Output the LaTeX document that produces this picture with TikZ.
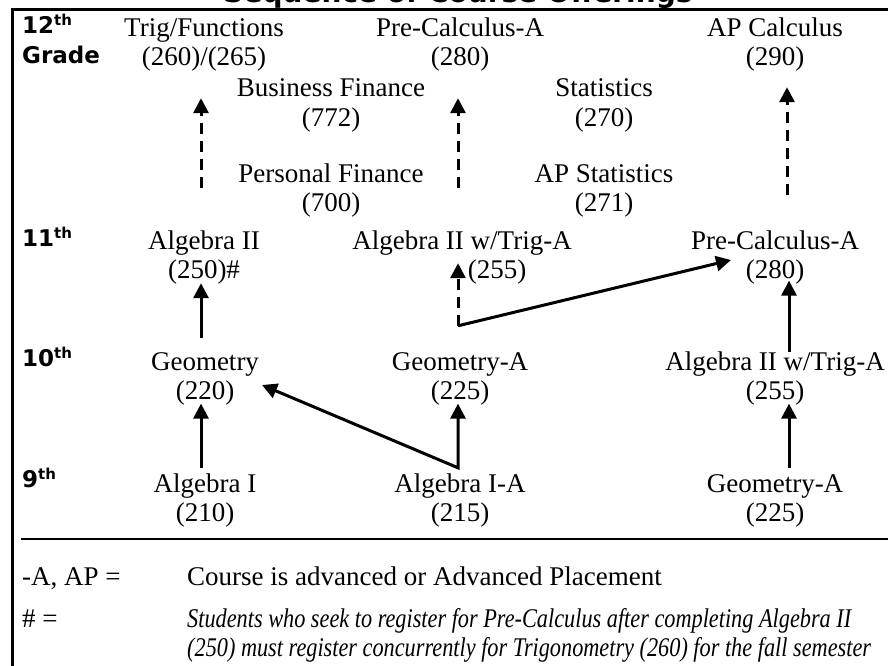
\documentclass[tikz,border=0pt]{standalone}
\usepackage{fontspec}
\usepackage{graphicx}
\setmainfont{Liberation Serif}
\newfontfamily\gradefont{DejaVu Sans}
\usetikzlibrary{arrows.meta,calc}

% two-line course entry; the node's base is the first line's baseline
\newcommand{\crs}[2]{\begin{tabular}[t]{@{}c@{}}#1\\#2\end{tabular}}
% grade label with raised "th"
\newcommand{\gth}[1]{#1\raisebox{8pt}{\fontsize{15}{15}\selectfont th}}

\begin{document}
\begin{tikzpicture}[x=1pt,y=-1pt,
  course/.style={anchor=base,inner sep=0pt,font=\fontsize{27}{29}\selectfont},
  grade/.style={anchor=base west,inner sep=0pt,font=\gradefont\bfseries\fontsize{23}{23}\selectfont},
  keytext/.style={anchor=base west,inner sep=0pt,font=\fontsize{27}{29}\selectfont},
  arr/.style={line width=3pt,-{Triangle[width=15pt,length=15pt]}},
  dsh/.style={arr,dash pattern=on 11pt off 7pt},
  rule/.style={line width=3pt}]
\useasboundingbox (0,0) rectangle (888,666);
\clip (0,0) rectangle (888,666);

% heading (runs off the top edge) and frame
\node[anchor=base,inner sep=0pt,font=\gradefont\bfseries\fontsize{28}{28}\selectfont] (title) at (458,3) {Sequence of Course Offerings};
\draw[rule] (12,700) -- (12,10) -- (900,10);
\draw[line width=2pt] (21,539) -- (900,539);

% grade labels
\node[grade] (g12) at (22,34) {\gth{12}};
\node[grade] (gr) at (22,64) {Grade};
\node[grade] (g11) at (22,246) {\gth{11}};
\node[grade] (g10) at (22,366) {\gth{10}};
\node[grade] (g9) at (22,487) {\gth{9}};

% 12th grade
\node[course] (trig) at (204,37) {\crs{Trig/Functions}{(260)/(265)}};
\node[course] (pcA) at (460,37) {\crs{Pre-Calculus-A}{(280)}};
\node[course] (apc) at (775,37) {\crs{AP Calculus}{(290)}};
\node[course] (bus) at (331,97) {\crs{Business Finance}{(772)}};
\node[course] (stat) at (604,97) {\crs{Statistics}{(270)}};
\node[course] (pers) at (331,182) {\crs{Personal Finance}{(700)}};
\node[course] (aps) at (604,182) {\crs{AP Statistics}{(271)}};

% 11th grade
\node[course] (alg2) at (204,249) {\crs{Algebra II}{(250)\#}};
\node[course] (alg2t) at (462,249) {\crs{Algebra II w/Trig-A}{\hspace*{70pt}(255)}};
\node[course] (pcR) at (775,249) {\crs{Pre-Calculus-A}{(280)}};

% 10th grade
\node[course] (geo) at (205,370) {\crs{Geometry}{(220)}};
\node[course] (geoA) at (460,370) {\crs{Geometry-A}{(225)}};
\node[course] (alg2tR) at (775,370) {\crs{Algebra II w/Trig-A}{(255)}};

% 9th grade
\node[course] (alg1) at (205,492) {\crs{Algebra I}{(210)}};
\node[course] (alg1A) at (460,492) {\crs{Algebra I-A}{(215)}};
\node[course] (geoAR) at (775,492) {\crs{Geometry-A}{(225)}};

% 11th -> 12th (dashed)
\draw[dsh,shorten <=40.7pt,shorten >=23.3pt] ([xshift=-3pt]alg2.north) -- ([xshift=-3pt]trig.south);
\draw[dsh,shorten <=40.7pt,shorten >=23.3pt] ([xshift=-4pt]alg2t.north) -- ([xshift=-2pt]pcA.south);
\draw[dsh,shorten <=33.7pt,shorten >=12.3pt] ([xshift=12pt]pcR.north) -- ([xshift=12pt]apc.south);

% 10th -> 11th
\draw[arr,shorten <=11.7pt,shorten >=-3.7pt] ([xshift=-4pt]geo.north) -- ([xshift=-3pt]alg2.south);
\coordinate (j2) at ([xshift=-2pt,yshift=23.7pt]geoA.north);
\draw[dsh,shorten >=-23.7pt] (j2) -- ([xshift=-4pt]alg2t.south);
\draw[arr] (j2) -- ([xshift=-44pt,yshift=-2.3pt]pcR.center);
\draw[arr,shorten <=-2.3pt,shorten >=-6.3pt] ([xshift=14pt]alg2tR.north) -- ([xshift=14pt]pcR.south);

% 9th -> 10th
\draw[arr,shorten <=3.7pt,shorten >=-4.3pt] ([xshift=-4pt]alg1.north) -- ([xshift=-4pt]geo.south);
\coordinate (j1) at ([xshift=-2pt,yshift=3.7pt]alg1A.north);
\draw[line width=3pt,{Triangle[width=15pt,length=15pt]}-{Triangle[width=15pt,length=15pt]},shorten >=-4.3pt]
  ([xshift=57pt,yshift=-6.3pt]geo.center) -- (j1) -- ([xshift=-2pt]geoA.south);
\draw[arr,shorten <=3.7pt,shorten >=-4.3pt] ([xshift=14pt]geoAR.north) -- ([xshift=14pt]alg2tR.south);

% key
\node[keytext] (kA) at (22,585) {-A, AP =};
\node[keytext] (kAt) at (187,585) {Course is advanced or Advanced Placement};
\node[keytext] (kH) at (22,627) {\# =};
\node[keytext] (kHt) at (187,627) {\begin{tabular}[t]{@{}l@{}}
  \scalebox{0.825}[1]{\itshape Students who seek to register for Pre-Calculus after completing Algebra II}\\
  \scalebox{0.825}[1]{\itshape (250) must register concurrently for Trigonometry (260) for the fall semester}
  \end{tabular}};
\end{tikzpicture}
\end{document}
